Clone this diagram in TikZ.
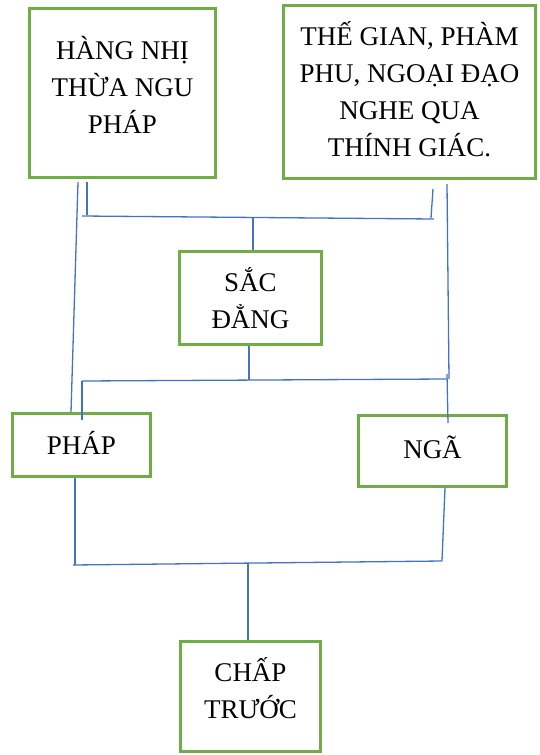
\documentclass[tikz,border=0pt]{standalone}
\usepackage{fontspec}
\setmainfont{Liberation Serif}
\usetikzlibrary{positioning}
\definecolor{boxgreen}{HTML}{70AD47}
\definecolor{linkblue}{HTML}{4472C4}
\tikzset{
  box/.style={
    draw=boxgreen,
    line width=3pt,
    align=center,
    inner sep=0pt,
    font=\fontsize{27}{37}\selectfont},
  link/.style={
    draw=linkblue,
    line width=1.3pt}
  }

\begin{document}
\begin{tikzpicture}[x=1pt,y=-1pt]
  \useasboundingbox (0,0) rectangle (539,755);
  % boxes (text depth lifts the text a little, as in the reference)
  \node[box, minimum width=186, minimum height=169, text depth=16] (nhithua) at (122.5,93) {HÀNG NHỊ\\THỪA NGU\\PHÁP};
  \node[box, minimum width=252, minimum height=173, text depth=5] (thegian) at (409.5,92) {THẾ GIAN, PHÀM\\PHU, NGOẠI ĐẠO\\NGHE QUA\\THÍNH GIÁC.};
  \node[box, minimum width=142, minimum height=93] (sacdang) at (250.5,298) {SẮC\\ĐẲNG};
  \node[box, minimum width=138, minimum height=63, text depth=4] (phap) at (81.5,445) {PHÁP};
  \node[box, minimum width=148, minimum height=71, text depth=8] (nga) at (432.5,451) {NGÃ};
  \node[box, minimum width=140, minimum height=110, text depth=16] (chaptruoc) at (250.5,696.5) {CHẤP\\TRƯỚC};
  % junction points
  \coordinate (ta) at (78,182);
  \coordinate (tb) at (87,182);
  \coordinate (tc) at (433,189);
  \coordinate (td) at (447,184);
  \coordinate (hl) at (82,216);
  \coordinate (hr) at (434,219);
  \coordinate (hm) at (253,218);
  \coordinate (ml) at (82,381);
  \coordinate (mr) at (446,379);
  \coordinate (mm) at (249,380);
  \coordinate (mt) at (447,374);
  \coordinate (bl) at (73,565);
  \coordinate (br) at (442,561);
  \coordinate (bm) at (248,563);
  % connectors
  \path[link]
    (ta) edge (phap.north -| 71,0)
    (tb) edge (87,215)
    (hl) edge (hr)
    (tc) edge (431,218)
    (td) edge (449,379)
    (hm) edge (sacdang.north -| hm)
    (sacdang.south -| mm) edge (mm)
    (ml) edge (mr)
    (ml) edge (82,420)
    (mt) edge (448,423)
    (phap.south -| 75,0) edge (75,565)
    (bl) edge (br)
    (nga.south -| 445,0) edge (br)
    (bm) edge (chaptruoc.north -| bm);
\end{tikzpicture}
\end{document}
